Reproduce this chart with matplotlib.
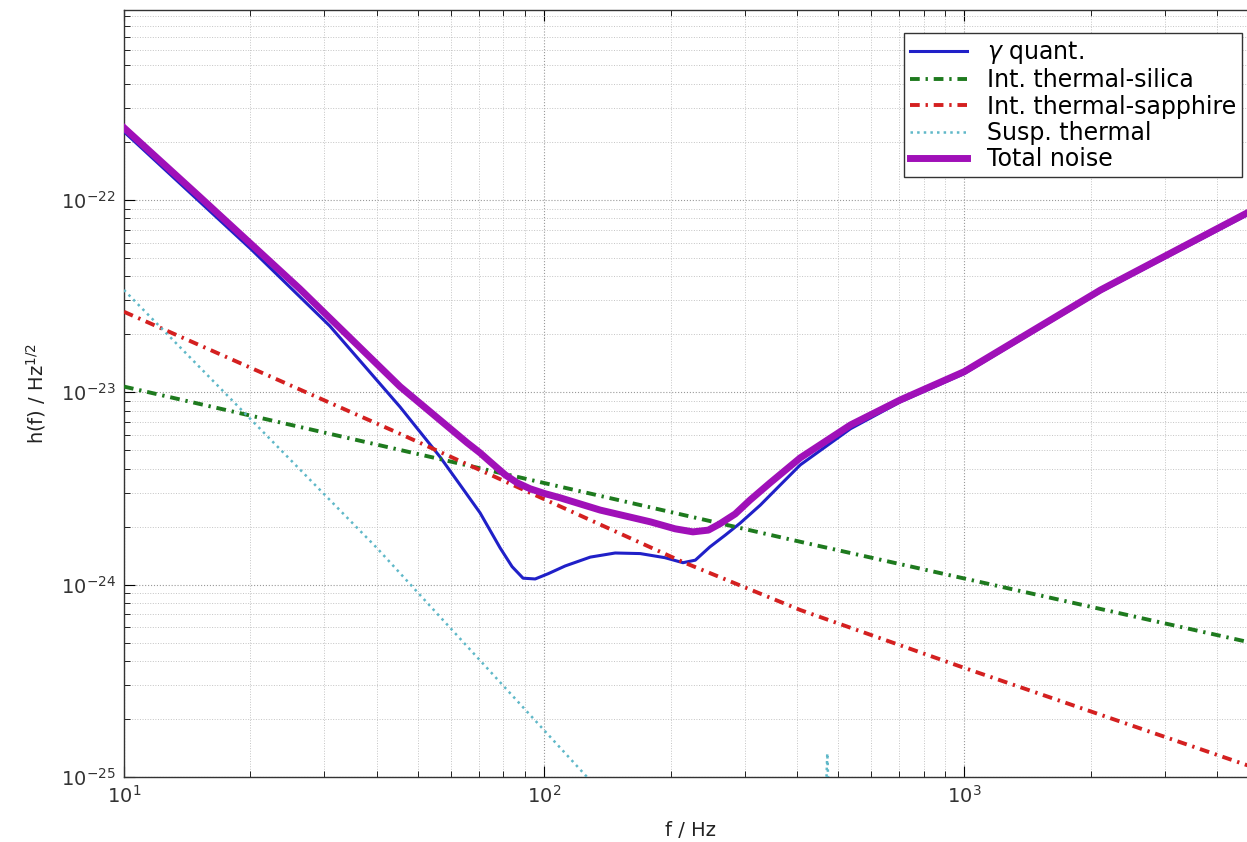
import matplotlib
matplotlib.use("Agg")
import matplotlib.pyplot as plt

# values (Hz, strain / sqrt(Hz))
quant_f = [10, 20, 30.9, 45.4, 56.5, 63.1, 70.4, 78.6, 83.9, 89.1, 95.2, 102.3,
           112.2, 128.8, 147.6, 169.3, 194, 214, 229, 248, 270, 293, 327, 365,
           407, 536, 704, 1000, 2110, 4720]
quant_h = [2.26e-22, 5.58e-23, 2.21e-23, 8.39e-24, 4.62e-24, 3.30e-24, 2.36e-24,
           1.55e-24, 1.24e-24, 1.08e-24, 1.07e-24, 1.14e-24, 1.25e-24, 1.39e-24,
           1.46e-24, 1.45e-24, 1.38e-24, 1.30e-24, 1.34e-24, 1.57e-24, 1.81e-24,
           2.09e-24, 2.59e-24, 3.30e-24, 4.19e-24, 6.46e-24, 8.91e-24, 1.25e-23,
           3.33e-23, 8.37e-23]

silica_f = [10, 407, 4720]
silica_h = [1.07e-23, 1.67e-24, 5.04e-25]

sapphire_f = [10, 45.4, 214, 407, 1000, 4720]
sapphire_h = [2.62e-23, 6.08e-24, 1.31e-24, 7.38e-25, 3.69e-25, 1.15e-25]

susp_f = [10, 40, 126.5, 300, 465, 470, 472, 474, 479, 5000]
susp_h = [3.40e-23, 1.55e-24, 1.0e-25, 1.5e-26, 6e-27, 1.0e-25, 1.33e-25,
          1.0e-25, 6e-27, 1e-28]

total_f = [10, 15.2, 26.2, 45.4, 65.6, 70.4, 74.4, 80.8, 86.3, 92.6, 100.5, 109,
           136, 179, 205, 226, 246, 262, 285, 309, 345, 407, 536, 704, 1000,
           2110, 4720]
total_h = [2.37e-22, 1.03e-22, 3.45e-23, 1.07e-23, 5.46e-24, 4.84e-24, 4.35e-24,
           3.72e-24, 3.38e-24, 3.15e-24, 2.97e-24, 2.83e-24, 2.44e-24, 2.12e-24,
           1.95e-24, 1.88e-24, 1.92e-24, 2.07e-24, 2.33e-24, 2.75e-24, 3.38e-24,
           4.56e-24, 6.76e-24, 9.12e-24, 1.28e-23, 3.40e-23, 8.57e-23]

x_ticks = [10, 100, 1000]
y_ticks = [1e-25, 1e-24, 1e-23, 1e-22]

fig = plt.figure(figsize=(12.47, 8.42), dpi=100)
ax = fig.add_axes([0.0994, 0.0772, 0.9094, 0.9109])

dashdot = (2.5, 1.5, 0.6, 1.5)
ax.loglog(quant_f, quant_h, color="#2020c8", lw=2.2, label=r"$\gamma$ quant.", zorder=3)
ax.loglog(silica_f, silica_h, color="#1e7a1e", lw=2.8, dashes=dashdot,
          label="Int. thermal-silica", zorder=3)
ax.loglog(sapphire_f, sapphire_h, color="#d42020", lw=2.8, dashes=dashdot,
          label="Int. thermal-sapphire", zorder=3)
ax.loglog(susp_f, susp_h, color="#5fb8c8", lw=1.8, ls=":", label="Susp. thermal", zorder=3)
ax.loglog(total_f, total_h, color="#a010b8", lw=5, label="Total noise", zorder=4)

# top edge sits just under 1e-21, right edge at 5 kHz (cropped in the original)
ax.set_xlim(10, 5000)
ax.set_ylim(1e-25, 9.7e-22)
ax.set_xticks(x_ticks)
ax.set_yticks(y_ticks)

ax.grid(True, which="major", ls=":", color="#999999", lw=0.8)
ax.grid(True, which="minor", ls=":", color="#c4c4c4", lw=0.7)
ax.tick_params(which="both", direction="in", top=True, right=True,
               labelsize=14, labelcolor="#333333", pad=6)
ax.tick_params(which="major", length=8)
ax.tick_params(which="minor", length=4)
for s in ax.spines.values():
    s.set_linewidth(1.0)
    s.set_color("#333333")

ax.set_xlabel("f / Hz", fontsize=14, color="#222222", labelpad=10)
ax.set_ylabel(r"h(f) / Hz$^{1/2}$", fontsize=14, color="#222222", labelpad=9)

ax.legend(loc="upper right", bbox_to_anchor=(1242 / 1247, 1 - 33 / 842),
          bbox_transform=fig.transFigure, borderaxespad=0, fontsize=17,
          handlelength=2.4, handletextpad=0.85, labelspacing=0.1, borderpad=0.25,
          fancybox=False, framealpha=1, edgecolor="#333333")

fig.savefig("out.png", dpi=100)
